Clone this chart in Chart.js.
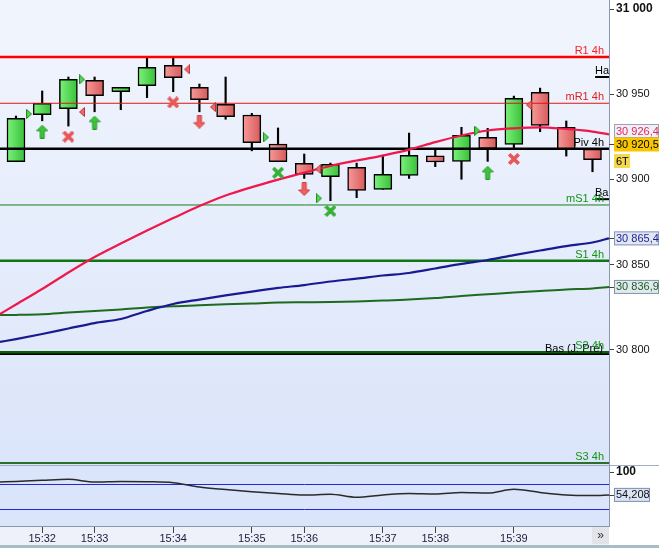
<!DOCTYPE html>
<html>
<head>
<meta charset="utf-8">
<title>Bougies 1 min avec pivots 4h</title>
<script src="https://cdn.jsdelivr.net/npm/chart.js"></script>
<style>
  body { margin: 0; background: #fff; width: 659px; height: 548px; overflow: hidden; position: relative; }
  #top { position: absolute; left: 0; top: 0; width: 659px; height: 465px; }
  #bot { position: absolute; left: 0; top: 465px; width: 659px; height: 83px; }
</style>
</head>
<body>
<div id="top"><canvas id="priceChart"></canvas></div>
<div id="bot"><canvas id="oscChart"></canvas></div>

<script>
// --- candles (one per minute) ---
const opens  = [30910.4, 30938.0, 30941.5, 30958.2, 30951.5, 30955.0, 30967.0, 30954.0, 30944.1, 30937.8, 30920.8, 30909.4,
                30901.6, 30907.1, 30894.2, 30902.4, 30913.9, 30910.6, 30924.7, 30920.6, 30951.1, 30930.6, 30917.8];
const highs  = [30937.2, 30951.9, 30960.1, 30960.1, 30954.0, 30971.7, 30971.8, 30956.0, 30960.1, 30938.8, 30930.2, 30914.9,
                30909.6, 30909.6, 30914.3, 30927.2, 30917.3, 30930.6, 30930.0, 30948.9, 30953.6, 30934.3, 30917.8];
const lows   = [30910.4, 30934.4, 30931.3, 30939.7, 30940.9, 30948.0, 30951.5, 30939.7, 30935.3, 30916.8, 30910.4, 30900.6,
                30887.5, 30889.3, 30894.2, 30900.6, 30907.5, 30900.1, 30910.6, 30918.3, 30928.0, 30913.7, 30904.5];
const closes = [30935.9, 30944.7, 30958.7, 30949.1, 30954.0, 30965.8, 30959.7, 30946.8, 30936.8, 30921.5, 30910.4, 30903.0,
                30908.9, 30893.6, 30903.0, 30914.1, 30910.2, 30925.9, 30918.0, 30947.6, 30931.7, 30917.8, 30911.6];

const timeLabels  = ['15:32', '15:33', '15:34', '15:35', '15:36', '15:37', '15:38', '15:39'];
const timeTickIdx = [1, 3, 6, 9, 11, 14, 16, 19];

// moving averages: left edge, one value per candle, right edge
const maRed   = [30821.0, 30826.6, 30835.7, 30845.4, 30854.5, 30862.4, 30870.0, 30877.3, 30884.4, 30890.6, 30895.5, 30899.9, 30904.0,
                 30907.9, 30911.1, 30914.0, 30917.5, 30921.9, 30925.8, 30928.7, 30930.0, 30930.6, 30929.6, 30928.1, 30926.4];
const maBlue  = [30804.6, 30806.3, 30809.3, 30812.5, 30815.7, 30818.1, 30822.8, 30826.9, 30829.5, 30831.9, 30834.2, 30836.3, 30838.0,
                 30840.1, 30841.8, 30843.6, 30845.1, 30847.7, 30850.4, 30852.7, 30855.6, 30858.3, 30860.9, 30863.0, 30865.4];
const maGreen = [30820.4, 30820.5, 30820.9, 30821.9, 30822.8, 30823.7, 30824.8, 30825.6, 30826.1, 30826.7, 30827.2, 30827.7, 30827.9,
                 30828.1, 30828.4, 30828.9, 30829.5, 30830.4, 30831.6, 30832.6, 30833.6, 30834.5, 30835.4, 30836.0, 30836.9];
const osc     = [80, 81, 83.4, 85.4, 80, 81.2, 80.6, 78.6, 70, 65, 60.6, 57, 54, 55.4, 49.4, 54, 57, 56, 59, 58, 65.4, 59, 54, 53, 54.2];
const oscBands = [75, 25];

// pivot levels
const levelNames  = ['R1 4h', 'mR1 4h', 'Piv 4h', 'mS1 4h', 'S1 4h', 'S2 4h', 'S3 4h'];
const levelValues = [30971.8, 30944.7, 30918.0, 30885.0, 30852.3, 30798.6, 30733.6];
const basValue = 30797.6;
const haValue = 30960.1, baValue = 30888.4;
const lastPrice = 30920.5;

// signals (x = candle index, y = price)
const triGreenX = [0.5, 2.52, 9.54, 11.56, 17.6],  triGreenY = [30938.4, 30958.7, 30924.7, 30888.9, 30928.6];
const triRedX   = [2.52, 6.53, 7.52, 11.53, 19.58], triRedY   = [30939.6, 30964.6, 30942.5, 30906.1, 30943.7];
const upX = [1, 3, 18],     upY = [30928.0, 30933.3, 30903.9];
const downX = [7, 11],      downY = [30933.9, 30894.4];
const xRedX = [2, 6, 19],   xRedY = [30925.1, 30945.2, 30912.0];
const xGreenX = [10, 12],   xGreenY = [30903.9, 30881.5];

const X_MIN = -0.61, X_MAX = 22.63;
const FONT = '"Liberation Sans", Arial, sans-serif';
const idx = opens.map((_, i) => i);
const lineXs = [X_MIN, ...idx, X_MAX];
const pts = (xs, ys) => ys.map((y, i) => ({ x: xs[i], y }));
const flat = (v, x0 = X_MIN) => [{ x: x0, y: v }, { x: X_MAX, y: v }];
const fmt = v => String(v).replace(/\B(?=(\d{3})+(?!\d))/g, ' ');

function icon(w, h, draw) {
  const c = document.createElement('canvas');
  c.width = w; c.height = h;
  draw(c.getContext('2d'));
  return c;
}
function poly(g, p, fill, stroke) {
  g.beginPath(); g.moveTo(p[0][0], p[0][1]);
  p.slice(1).forEach(q => g.lineTo(q[0], q[1]));
  g.closePath(); g.fillStyle = fill; g.fill();
  g.strokeStyle = stroke; g.lineWidth = 1; g.stroke();
}
const triRight = icon(6, 10, g => poly(g, [[0.5, 0.5], [5.5, 5], [0.5, 9.5]], '#55d455', '#1c8c1c'));
const triLeft  = icon(6, 10, g => poly(g, [[5.5, 0.5], [0.5, 5], [5.5, 9.5]], '#ee6a6a', '#c03030'));
const arrowUp  = icon(12, 14, g => poly(g, [[6, 0.5], [11.5, 6], [8, 6], [8, 13.5], [4, 13.5], [4, 6], [0.5, 6]], '#3ec43e', '#1f9a1f'));
const arrowDn  = icon(12, 14, g => poly(g, [[6, 13.5], [11.5, 8], [8, 8], [8, 0.5], [4, 0.5], [4, 8], [0.5, 8]], '#f06060', '#cc3c3c'));
function cross(col) {
  return icon(12, 12, g => {
    g.strokeStyle = col; g.lineWidth = 3.6; g.lineCap = 'square';
    g.beginPath(); g.moveTo(2.5, 2.5); g.lineTo(9.5, 9.5); g.moveTo(9.5, 2.5); g.lineTo(2.5, 9.5); g.stroke();
  });
}
const xRed = cross('#e85656'), xGreen = cross('#34b034');

function candleFill(c) {
  const i = c.dataIndex;
  const up = closes[i] >= opens[i];
  const flatCol = up ? '#5ddf5d' : '#ec7a7a';
  const xs = c.chart.scales.x;
  if (!xs || i === undefined) return flatCol;
  const px = xs.getPixelForValue(i);
  if (!Number.isFinite(px)) return flatCol;
  const g = c.chart.ctx.createLinearGradient(px - 9, 0, px + 9, 0);
  if (up) { g.addColorStop(0, '#7cf27c'); g.addColorStop(1, '#38c038'); }
  else { g.addColorStop(0, '#f89a9a'); g.addColorStop(1, '#d65a5a'); }
  return g;
}

function marker(xs, ys, img) {
  return { type: 'line', data: pts(xs, ys), showLine: false, pointStyle: img, pointRadius: 6, pointHoverRadius: 6 };
}
function lineSet(data, color, width, smooth) {
  return { type: 'line', data, borderColor: color, borderWidth: width, pointRadius: 0,
           cubicInterpolationMode: smooth ? 'monotone' : 'default', fill: false };
}

const levelColors = ['#ff0000', '#dd1414', '#000000', '#168016', '#117511', '#0b5e0b', '#2a702a'];
const levelWidths = [2.5, 1.2, 2.5, 1, 2.5, 2.5, 2];
const labelColors = ['#ff1e1e', '#e01e1e', '#000000', '#139313', '#139313', '#139313', '#139313'];

function valueBox(ctx, cy, text, o) {
  ctx.font = '11px ' + FONT;
  const h = 14, w = o.w;
  ctx.fillStyle = o.fill;
  ctx.fillRect(614, cy - h / 2, w, h);
  if (o.stroke) { ctx.strokeStyle = o.stroke; ctx.lineWidth = 1; ctx.strokeRect(614.5, cy - h / 2 + 0.5, w - 1, h - 1); }
  ctx.fillStyle = o.color; ctx.textAlign = 'left'; ctx.textBaseline = 'middle';
  ctx.fillText(text, 616, cy + 0.5);
}
function axisTick(ctx, y) {
  ctx.strokeStyle = '#444'; ctx.lineWidth = 1;
  ctx.beginPath(); ctx.moveTo(609, Math.round(y) + 0.5); ctx.lineTo(614, Math.round(y) + 0.5); ctx.stroke();
}

const priceDecor = {
  id: 'priceDecor',
  beforeDraw(chart) {
    const { ctx, chartArea: a } = chart;
    ctx.save();
    ctx.fillStyle = '#ffffff';
    ctx.fillRect(0, 0, chart.width, chart.height);
    const g = ctx.createLinearGradient(0, a.top, 0, a.bottom);
    g.addColorStop(0, '#f1f5fd'); g.addColorStop(1, '#dbe5fa');
    ctx.fillStyle = g;
    ctx.fillRect(a.left, a.top, a.right - a.left, a.bottom - a.top);
    ctx.restore();
  },
  afterDraw(chart) {
    const { ctx } = chart;
    const y = chart.scales.y;
    ctx.save();
    ctx.font = '11px ' + FONT;
    ctx.textAlign = 'right'; ctx.textBaseline = 'alphabetic';
    levelNames.forEach((n, i) => {
      if (n === 'S2 4h') {
        ctx.fillStyle = '#000'; ctx.fillText('Bas (J. Pré)', 603, y.getPixelForValue(basValue) - 2);
      }
      ctx.fillStyle = labelColors[i];
      ctx.fillText(n, 604, y.getPixelForValue(levelValues[i]) - 3);
    });
    ctx.textAlign = 'left'; ctx.fillStyle = '#000';
    ctx.fillText('Ha', 595, y.getPixelForValue(haValue) - 3);
    ctx.fillText('Ba', 595, y.getPixelForValue(baValue) - 3);

    // right-axis value boxes
    const goldY = y.getPixelForValue(lastPrice);
    const redY = Math.min(y.getPixelForValue(maRed[maRed.length - 1]), goldY - 13.5);
    [goldY, y.getPixelForValue(maBlue[maBlue.length - 1]), y.getPixelForValue(maGreen[maGreen.length - 1])].forEach(v => axisTick(ctx, v));
    valueBox(ctx, redY, '30 926,4', { w: 45, fill: '#eef0f8', stroke: '#9aa3b5', color: '#e8245c' });
    valueBox(ctx, goldY, '30 920,5', { w: 45, fill: '#f7c600', color: '#000' });
    valueBox(ctx, goldY + 16.5, '6T', { w: 16, fill: '#f4d84e', color: '#000' });
    valueBox(ctx, y.getPixelForValue(maBlue[maBlue.length - 1]), '30 865,4', { w: 45, fill: '#e0e6f3', stroke: '#8494b8', color: '#1f1f8f' });
    valueBox(ctx, y.getPixelForValue(maGreen[maGreen.length - 1]), '30 836,9', { w: 45, fill: '#e0e9ef', stroke: '#8494a8', color: '#1d5f1d' });
    ctx.restore();
  }
};

const fixAxis = w => function (s) { s.width = w; s.paddingTop = 0; s.paddingBottom = 0; };

new Chart(document.getElementById('priceChart'), {
  type: 'bar',
  data: {
    datasets: [
      marker(upX, upY, arrowUp),
      marker(downX, downY, arrowDn),
      marker(xRedX, xRedY, xRed),
      marker(xGreenX, xGreenY, xGreen),
      marker(triGreenX, triGreenY, triRight),
      marker(triRedX, triRedY, triLeft),
      lineSet(pts(lineXs, maRed), '#f0174a', 2.2, true),
      lineSet(pts(lineXs, maBlue), '#1a1a90', 2.2, true),
      lineSet(pts(lineXs, maGreen), '#1e6a1e', 2, true),
      ...levelValues.map((v, i) => lineSet(flat(v), levelColors[i], levelWidths[i])),
      lineSet(flat(basValue), '#000000', 2),
      lineSet(flat(haValue, 22.1), '#000000', 2),
      lineSet(flat(baValue, 22.1), '#000000', 2),
      {
        data: idx.map(i => ({ x: i, y: [opens[i], closes[i]] })),
        backgroundColor: candleFill, borderColor: '#000', borderWidth: 1.5, borderSkipped: false,
        barThickness: 18, grouped: false
      },
      {
        data: idx.map(i => ({ x: i, y: [lows[i], highs[i]] })),
        backgroundColor: '#000', borderWidth: 0, barThickness: 1.5, grouped: false
      }
    ]
  },
  options: {
    responsive: true, maintainAspectRatio: false, animation: false,
    layout: { padding: 0, autoPadding: false },
    plugins: { legend: { display: false }, tooltip: { enabled: false } },
    scales: {
      x: { type: 'linear', min: X_MIN, max: X_MAX, offset: false, display: false },
      y: {
        position: 'right', min: 30732.4, max: 31005.3,
        border: { color: '#8a98b0' },
        grid: { drawOnChartArea: false, tickLength: 5, color: '#444' },
        afterBuildTicks: s => { s.ticks = s.ticks.filter(t => t.value >= 30800); },
        ticks: {
          stepSize: 50, includeBounds: false, padding: 2, color: '#111',
          font: c => (c.tick && c.tick.value === 31000) ? { family: FONT, size: 12, weight: 'bold' } : { family: FONT, size: 11 },
          callback: v => fmt(v)
        },
        afterFit: fixAxis(50)
      }
    }
  },
  plugins: [priceDecor]
});

const oscDecor = {
  id: 'oscDecor',
  beforeDraw(chart) {
    const { ctx, chartArea: a } = chart;
    ctx.save();
    ctx.fillStyle = '#ffffff'; ctx.fillRect(0, 0, chart.width, chart.height);
    ctx.fillStyle = '#dae4fa'; ctx.fillRect(a.left, a.top, a.right - a.left, a.bottom - a.top);
    ctx.fillStyle = '#eef1f9'; ctx.fillRect(a.left, a.bottom, a.right - a.left, chart.height - 3 - a.bottom);
    ctx.fillStyle = '#a8bcc6'; ctx.fillRect(0, chart.height - 3, chart.width, 3);
    ctx.strokeStyle = '#a3aec0'; ctx.lineWidth = 1;
    ctx.beginPath(); ctx.moveTo(0, 0.5); ctx.lineTo(chart.width, 0.5); ctx.stroke();
    // scroll button
    ctx.fillStyle = '#e2e4ea'; ctx.fillRect(592, a.bottom + 1, 17, chart.height - 4 - a.bottom - 1);
    ctx.fillStyle = '#333'; ctx.font = '12px ' + FONT; ctx.textAlign = 'center'; ctx.textBaseline = 'middle';
    ctx.fillText('»', 600.5, a.bottom + 9.5);
    ctx.restore();
  },
  afterDraw(chart) {
    const { ctx } = chart;
    const y = chart.scales.y;
    const last = osc[osc.length - 1];
    ctx.save();
    axisTick(ctx, y.getPixelForValue(last));
    valueBox(ctx, y.getPixelForValue(last), '54,208', { w: 36, fill: '#dbe4f4', stroke: '#8090b0', color: '#111' });
    ctx.restore();
  }
};

new Chart(document.getElementById('oscChart'), {
  type: 'line',
  data: {
    datasets: [
      lineSet(pts(lineXs, osc), '#2a2a2a', 1.5, true),
      ...oscBands.map(v => lineSet(flat(v), '#2626d6', 1))
    ]
  },
  options: {
    responsive: true, maintainAspectRatio: false, animation: false,
    layout: { padding: { top: 0, bottom: 3, left: 0, right: 0 }, autoPadding: false },
    plugins: { legend: { display: false }, tooltip: { enabled: false } },
    scales: {
      x: {
        type: 'linear', min: X_MIN, max: X_MAX, offset: false, position: 'bottom',
        border: { color: '#8a98b0' },
        grid: { drawOnChartArea: false, tickLength: 7, color: '#444' },
        afterBuildTicks: s => { s.ticks = timeTickIdx.map(v => ({ value: v })); },
        ticks: {
          autoSkip: false, maxRotation: 0, padding: -1, color: '#1c1c3a',
          font: { family: FONT, size: 11 },
          callback: v => { const k = timeTickIdx.indexOf(v); return k >= 0 ? timeLabels[k] : ''; }
        },
        afterFit: s => { s.height = 19; s.paddingLeft = 0; s.paddingRight = 0; }
      },
      y: {
        position: 'right', min: -8, max: 114,
        border: { color: '#8a98b0' },
        grid: { drawOnChartArea: false, tickLength: 5, color: '#444' },
        afterBuildTicks: s => { s.ticks = [{ value: 100 }]; },
        ticks: { padding: 2, color: '#111', font: { family: FONT, size: 12, weight: 'bold' }, callback: v => String(v) },
        afterFit: fixAxis(50)
      }
    }
  },
  plugins: [oscDecor]
});
</script>
</body>
</html>
